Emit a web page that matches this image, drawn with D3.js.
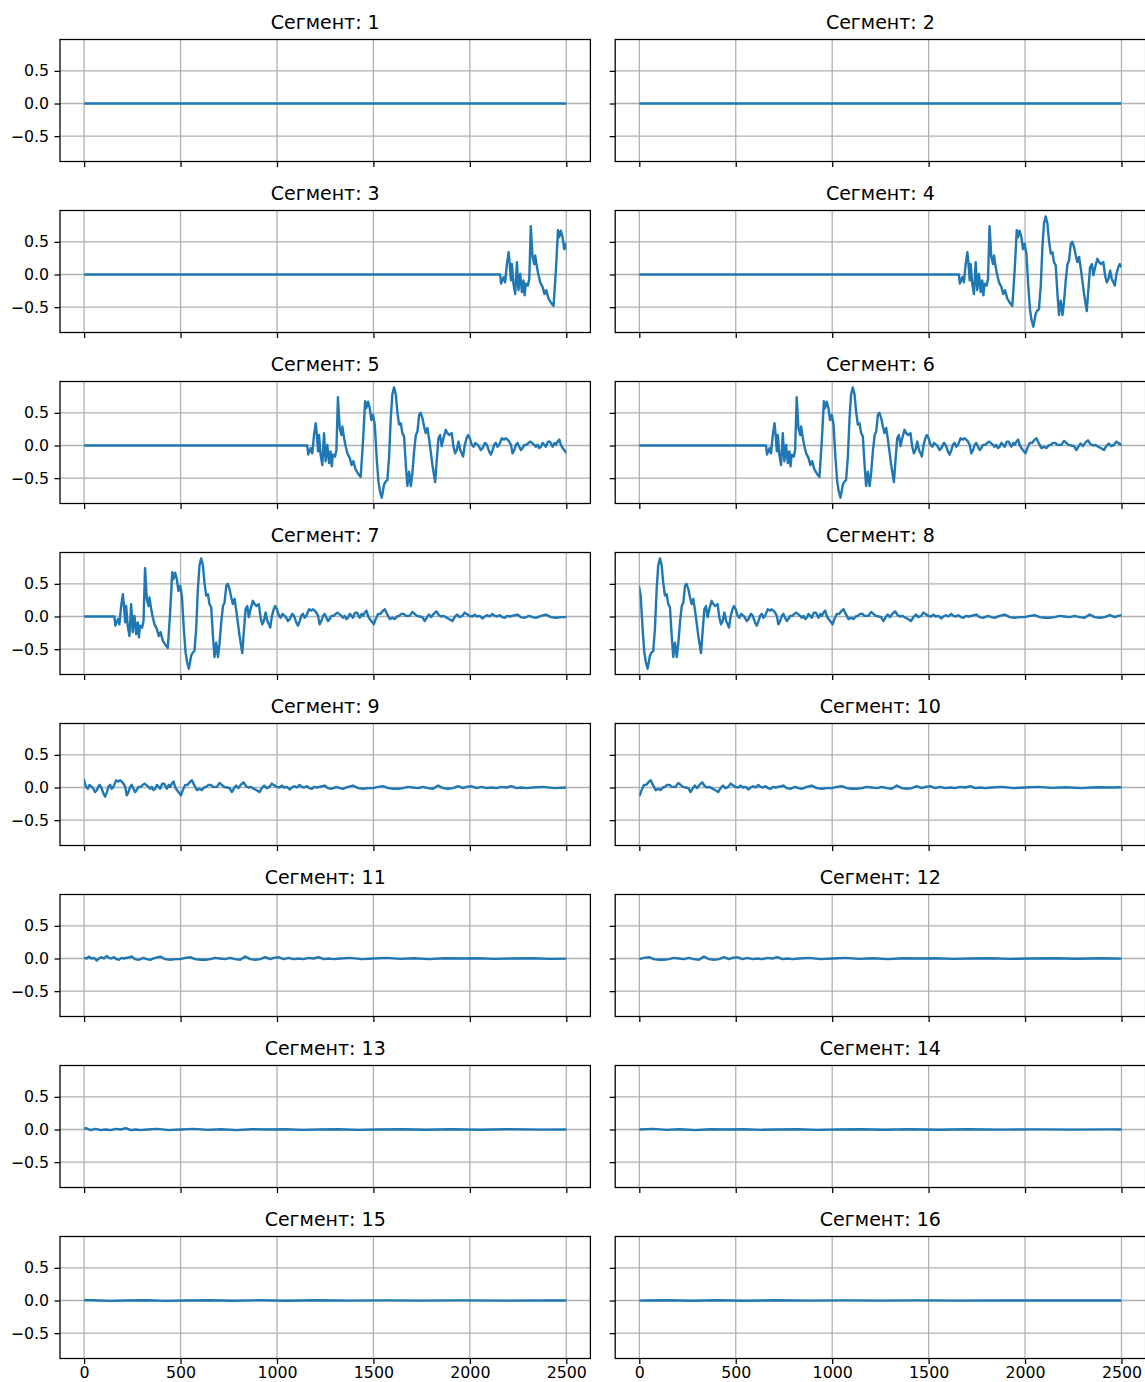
<!DOCTYPE html>
<html>
<head>
<meta charset="utf-8">
<script src="https://cdn.jsdelivr.net/npm/d3@7"></script>
<style>
  body { margin: 0; background: #fff; }
  text { font-family: "DejaVu Sans", sans-serif; }
</style>
</head>
<body>
<svg id="chart" width="1145" height="1382"></svg>
<script>
// windows of 2500 samples, shifted by 500
var segmentStarts = [0, 500, 1000, 1500, 2000, 2500, 3000, 3500, 4000, 4500, 5000, 5500, 6000, 6500, 7000, 7500];
var segmentLength = 2500;
var xTicks = [0, 500, 1000, 1500, 2000, 2500];
var yTicks = [-0.5, 0, 0.5];

// [sample, value]
var quietPart = [[0, 0], [1000, 0], [2000, 0], [3000, 0], [3157, 0]];

var eventPart = [
  [3162, -0.14], [3175, -0.04], [3183, -0.12], [3192, 0.16], [3201, 0.34], [3206, 0.19], [3213, -0.09],
  [3218, 0.16], [3226, -0.14], [3235, -0.30], [3244, 0.19], [3252, -0.24], [3261, 0.01], [3270, -0.27],
  [3278, -0.09], [3284, -0.32], [3290, -0.14], [3301, -0.17], [3308, -0.07], [3316, 0.74], [3325, 0.27],
  [3334, 0.16], [3339, 0.29], [3348, 0.11], [3356, -0.01], [3365, -0.12], [3377, -0.19], [3387, -0.30],
  [3396, -0.24], [3408, -0.37], [3425, -0.45], [3434, -0.48], [3446, 0.06], [3457, 0.68], [3463, 0.57],
  [3472, 0.67], [3481, 0.57], [3489, 0.39], [3498, 0.47], [3507, 0.32], [3517, -0.19], [3526, -0.55],
  [3534, -0.70], [3543, -0.80], [3555, -0.60], [3564, -0.55], [3572, -0.53], [3581, -0.19], [3590, 0.42],
  [3598, 0.78], [3607, 0.89], [3616, 0.78], [3624, 0.52], [3633, 0.32], [3642, 0.34], [3650, 0.19],
  [3659, 0.14], [3668, -0.30], [3676, -0.62], [3685, -0.40], [3694, -0.62], [3702, -0.42], [3711, -0.09],
  [3720, 0.16], [3728, 0.21], [3737, 0.47], [3745, 0.50], [3754, 0.42], [3763, 0.29], [3771, 0.19],
  [3780, 0.27], [3789, 0.09], [3797, -0.09], [3806, -0.30], [3820, -0.56], [3828, -0.24], [3837, 0.11],
  [3846, 0.16], [3854, -0.01], [3863, 0.11], [3875, 0.24], [3884, 0.19], [3893, 0.16], [3906, 0.19]
];

var codaPart = [
  [3915, -0.02], [3924, -0.12], [3932, -0.07], [3941, 0.06], [3950, -0.07], [3958, -0.12], [3965, -0.17],
  [3974, 0.01], [3983, 0.11], [3991, 0.16], [4000, 0.11], [4010, 0.01], [4019, -0.02], [4028, 0.04],
  [4040, 0.01], [4048, -0.02], [4057, -0.07], [4066, -0.04], [4079, 0.04], [4088, 0.01], [4100, -0.09],
  [4109, -0.14], [4118, -0.07], [4126, 0.01], [4135, 0.04], [4143, -0.02], [4152, 0.01], [4166, 0.11],
  [4178, 0.09], [4187, 0.11], [4195, 0.09], [4204, 0.06], [4213, 0.01], [4221, -0.12], [4230, -0.07],
  [4239, 0.01], [4247, 0.04], [4256, -0.02], [4265, -0.07], [4273, -0.04], [4282, 0.01], [4294, 0.01],
  [4304, 0.04], [4313, 0.06], [4322, 0.04], [4334, 0.01], [4342, -0.02], [4351, 0.01], [4360, -0.04],
  [4368, -0.02], [4377, 0.04], [4386, 0.01], [4394, -0.02], [4405, 0.06], [4415, 0.06], [4429, -0.02],
  [4439, 0.04], [4446, 0.01], [4455, 0.06], [4464, 0.09], [4472, 0.01], [4481, -0.04], [4489, -0.07],
  [4502, -0.12], [4512, -0.04], [4524, 0.04], [4536, 0.04], [4550, 0.09], [4559, 0.11], [4567, 0.06],
  [4576, 0.01], [4585, -0.04], [4598, -0.02], [4611, -0.04], [4622, 0.00], [4633, 0.01], [4645, 0.04],
  [4657, 0.04], [4668, 0.01], [4680, 0.01], [4688, 0.01], [4702, 0.07], [4714, 0.04], [4726, 0.01],
  [4740, 0.00], [4754, -0.01], [4766, -0.07], [4778, -0.01], [4788, 0.03], [4800, -0.01], [4812, 0.04],
  [4826, 0.08], [4840, 0.02], [4852, 0.00], [4864, 0.01], [4875, -0.01], [4887, -0.03], [4899, -0.05],
  [4909, -0.07], [4921, -0.01], [4934, 0.03], [4947, -0.01], [4961, 0.01], [4973, 0.06], [4982, 0.04],
  [4999, 0.01], [5013, 0.00], [5025, 0.03], [5037, 0.00], [5051, 0.01], [5065, -0.03], [5077, 0.00],
  [5089, 0.02], [5103, 0.00], [5117, 0.04], [5129, 0.01], [5141, 0.00], [5155, 0.02], [5169, -0.01],
  [5181, -0.02], [5193, 0.01], [5207, 0.00]
];

var tailPart = [
  [5247, 0.03], [5264, -0.01], [5282, -0.02], [5308, 0.01], [5325, -0.01], [5342, -0.02], [5368, 0.01],
  [5394, 0.03], [5420, -0.01], [5446, -0.02], [5472, -0.01], [5498, -0.01], [5524, 0.01], [5550, 0.02],
  [5576, -0.01], [5602, -0.02], [5628, -0.02], [5654, -0.01], [5679, 0.01], [5705, 0.00], [5731, -0.01],
  [5757, 0.01], [5783, -0.01], [5809, -0.02], [5835, 0.03], [5861, -0.01], [5887, -0.02], [5913, -0.01],
  [5939, 0.02], [5965, -0.01], [5982, 0.01], [6008, 0.02], [6034, -0.01], [6060, 0.01], [6086, -0.01],
  [6112, 0.00], [6138, -0.01], [6164, 0.01], [6190, 0.00], [6216, 0.02], [6242, -0.01], [6268, 0.00],
  [6294, -0.01], [6328, 0.00], [6380, 0.01], [6440, -0.01], [6500, 0.00], [6570, 0.01], [6640, -0.005],
  [6710, 0.005], [6790, -0.01], [6870, 0.005], [6950, 0.00], [7040, 0.005], [7130, -0.005], [7220, 0.00],
  [7320, 0.005], [7420, -0.005], [7530, 0.00], [7650, 0.005], [7770, -0.004], [7900, 0.003], [8050, -0.003],
  [8200, 0.003], [8380, -0.002], [8560, 0.002], [8750, -0.002], [8950, 0.002], [9150, -0.002], [9400, 0.001],
  [9700, -0.001], [10000, 0.0]
];

var signal = quietPart.concat(eventPart, codaPart, tailPart);

var svg = d3.select("#chart");
var colLeft = [60, 615.2],
    axW = 530.4,
    axH = 122,
    rowTop = 39.5,
    rowStep = 171;

var x = d3.scaleLinear().domain([-125, 2625]).range([0, axW]);
var y = d3.scaleLinear().domain([-0.888, 0.98]).range([axH, 0]);
var bisect = d3.bisector(function(d) { return d[0]; }).left;

segmentStarts.forEach(function(start, i) {
  var col = i % 2, row = Math.floor(i / 2);
  var g = svg.append("g")
      .attr("transform", "translate(" + colLeft[col] + "," + (rowTop + row * rowStep) + ")");

  // grid
  g.selectAll(".gx").data(xTicks).enter().append("line")
      .attr("x1", function(d) { return x(d); }).attr("x2", function(d) { return x(d); })
      .attr("y1", 0).attr("y2", axH)
      .attr("stroke", "#b0b0b0").attr("stroke-width", 1.27);
  g.selectAll(".gy").data(yTicks).enter().append("line")
      .attr("x1", 0).attr("x2", axW)
      .attr("y1", function(d) { return y(d); }).attr("y2", function(d) { return y(d); })
      .attr("stroke", "#b0b0b0").attr("stroke-width", 1.27);

  g.append("clipPath").attr("id", "clip" + i)
    .append("rect")
      .attr("x", x(0)).attr("y", 0)
      .attr("width", x(segmentLength) - x(0)).attr("height", axH);

  // points inside the window plus one neighbour on each side
  var lo = Math.max(0, bisect(signal, start) - 1);
  var hi = Math.min(signal.length, bisect(signal, start + segmentLength) + 1);
  var pts = signal.slice(lo, hi);

  var line = d3.line()
      .x(function(d) { return x(d[0] - start); })
      .y(function(d) { return y(d[1]); });

  g.append("path")
      .datum(pts)
      .attr("clip-path", "url(#clip" + i + ")")
      .attr("fill", "none")
      .attr("stroke", "#1f77b4")
      .attr("stroke-width", 2.4)
      .attr("stroke-linejoin", "round")
      .attr("d", line);

  // axes
  var xAxis = d3.axisBottom(x).tickValues(xTicks).tickSize(5.5).tickPadding(3)
      .tickFormat(row === 7 ? d3.format("d") : "");
  var yAxis = d3.axisLeft(y).tickValues(yTicks).tickSize(5.5).tickPadding(5.5)
      .tickFormat(col === 0 ? d3.format(".1f") : "");

  var xa = g.append("g").attr("transform", "translate(0," + axH + ")").call(xAxis);
  var ya = g.append("g").call(yAxis);
  [xa, ya].forEach(function(a) {
    a.select(".domain").remove();
    a.selectAll("line").attr("stroke", "#000").attr("stroke-width", 1.27);
    a.selectAll("text").attr("fill", "#000").style("font-size", "15.8px").style("font-family", "DejaVu Sans");
  });

  g.append("rect")
      .attr("x", 0).attr("y", 0).attr("width", axW).attr("height", axH)
      .attr("fill", "none").attr("stroke", "#000").attr("stroke-width", 1.27);

  g.append("text")
      .attr("x", axW / 2).attr("y", -10.5)
      .attr("text-anchor", "middle")
      .style("font-size", "19px")
      .text("Сегмент: " + (i + 1));
});
</script>
</body>
</html>
